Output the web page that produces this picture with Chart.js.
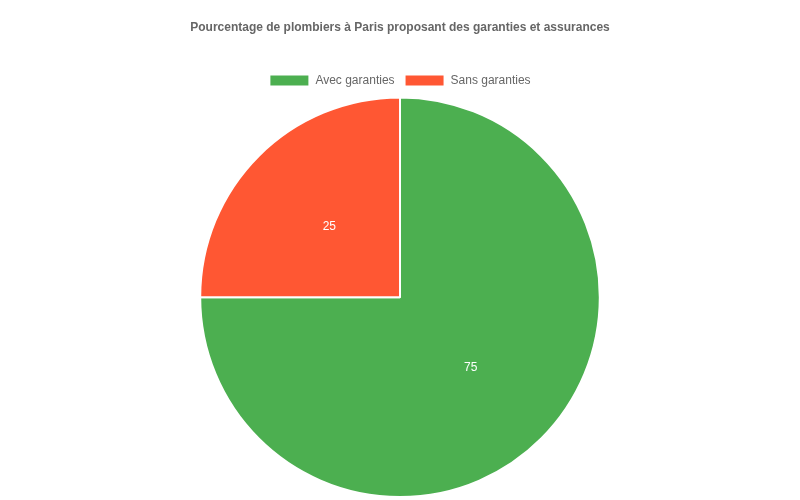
<!DOCTYPE html>
<html>
<head>
<meta charset="utf-8">
<script src="https://cdn.jsdelivr.net/npm/chart.js@4"></script>
<style>
  html, body { margin: 0; padding: 0; background: #fff; }
  #wrap { width: 800px; height: 500px; }
</style>
</head>
<body>
<div id="wrap"><canvas id="chart"></canvas></div>
<script>
  const labels = ["Avec garanties", "Sans garanties"];
  const values = [75, 25];
  const colors = ["#4caf50", "#ff5733"];

  // draws the value in the middle of each slice
  const sliceLabels = {
    id: "sliceLabels",
    afterDatasetsDraw(chart) {
      const ctx = chart.ctx;
      const meta = chart.getDatasetMeta(0);
      ctx.save();
      ctx.fillStyle = "#fff";
      ctx.font = "12px 'Liberation Sans', Arial, sans-serif";
      ctx.textAlign = "center";
      ctx.textBaseline = "middle";
      meta.data.forEach((arc, i) => {
        const p = arc.tooltipPosition();
        ctx.fillText(String(values[i]), p.x, p.y);
      });
      ctx.restore();
    },
  };

  new Chart(document.getElementById("chart"), {
    type: "pie",
    data: {
      labels,
      datasets: [{
        data: values,
        backgroundColor: colors,
        borderColor: "#fff",
        borderWidth: 2,
      }],
    },
    options: {
      responsive: true,
      maintainAspectRatio: false,
      animation: false,
      layout: { padding: { top: 10, bottom: 2 } },
      plugins: {
        title: {
          display: true,
          text: "Pourcentage de plombiers à Paris proposant des garanties et assurances",
          color: "#666",
          font: { family: "'Liberation Sans', Arial, sans-serif", size: 12, weight: "bold" },
          padding: { top: 10, bottom: 30 },
        },
        legend: {
          position: "top",
          labels: {
            color: "#666",
            font: { family: "'Liberation Sans', Arial, sans-serif", size: 12 },
            boxWidth: 40,
            boxHeight: 12,
          },
        },
        tooltip: { enabled: false },
      },
    },
    plugins: [sliceLabels],
  });
</script>
</body>
</html>
